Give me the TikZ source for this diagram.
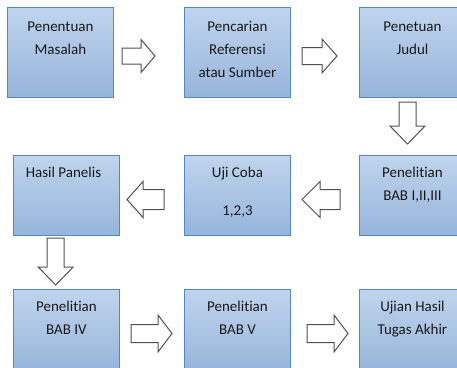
\documentclass[tikz,border=0pt]{standalone}
\usepackage{fontspec}
\setmainfont{Carlito}[Ligatures={NoCommon}]
\definecolor{boxtop}{RGB}{192,212,237}
\definecolor{boxbot}{RGB}{150,181,219}
\definecolor{boxline}{RGB}{86,134,196}
\definecolor{arrline}{RGB}{80,80,80}
\definecolor{txtcol}{RGB}{25,25,25}
\tikzset{
  box/.style={draw=boxline, line width=0.9pt, top color=boxtop, bottom color=boxbot,
    minimum width=106pt, inner sep=0pt, anchor=north west},
  lbl/.style={anchor=north, align=center, inner sep=0pt, text=txtcol,
    font=\fontsize{15}{23}\selectfont},
  arrowline/.style={draw=arrline, line width=1pt, fill=white, line join=miter},
  pics/barrow/.style n args={4}{code={
    \draw[arrowline] (0,{-#4/2}) -- (#2,{-#4/2}) -- (#2,{-#3/2}) -- (#1,0)
      -- (#2,{#3/2}) -- (#2,{#4/2}) -- (0,{#4/2}) -- cycle;}}
}
\begin{document}
\begin{tikzpicture}[x=1pt,y=-1pt]
\useasboundingbox (0,0) rectangle (457,367);
\clip (0,0) rectangle (457,367);
% row 1
\node[box, minimum height=90pt] (b1) at (7,7) {};
\node[box, minimum height=90pt] (b2) at (184,7) {};
\node[box, minimum height=90pt] (b3) at (359,7) {};
% row 2
\node[box, minimum height=80pt] (b4) at (359,155) {};
\node[box, minimum height=80pt] (b5) at (184,155) {};
\node[box, minimum height=80pt] (b6) at (13,155) {};
% row 3
\node[box, minimum height=82pt] (b7) at (13,289) {};
\node[box, minimum height=82pt] (b8) at (184,289) {};
\node[box, minimum height=82pt] (b9) at (359,289) {};
% labels
\node[lbl] (t1) at ([yshift=-8pt]b1.north) {\strut Penentuan\\Masalah};
\node[lbl] (t2) at ([yshift=-8pt]b2.north) {\strut Pencarian\\Referensi\\atau Sumber};
\node[lbl] (t3) at ([yshift=-8pt]b3.north) {\strut Penetuan\\Judul};
\node[lbl] (t4) at ([yshift=-6pt]b4.north) {\strut Penelitian\\BAB I,II,III};
\node[lbl] (t5) at ([yshift=-6pt]b5.north) {\strut Uji Coba\\[15pt]1,2,3};
\node[lbl] (t6) at ([xshift=-3pt,yshift=-6pt]b6.north) {\strut Hasil Panelis};
\node[lbl] (t7) at ([yshift=-6pt]b7.north) {\strut Penelitian\\BAB IV};
\node[lbl] (t8) at ([yshift=-6pt]b8.north) {\strut Penelitian\\BAB V};
\node[lbl] (t9) at ([yshift=-6pt]b9.north) {\strut Ujian Hasil\\Tugas Akhir};
% block arrows
\pic at (122,56) {barrow={33}{19}{33}{16}};
\pic at (302,56) {barrow={35}{20}{34}{17}};
\pic[rotate=-90] at (407.5,102) {barrow={42}{24}{35}{17}};
\pic[rotate=180] at (340,199.5) {barrow={38}{20}{36}{20}};
\pic[rotate=180] at (164,199.5) {barrow={37}{21}{36}{20}};
\pic[rotate=-90] at (55.7,238) {barrow={47}{29}{35}{17}};
\pic at (131,333.5) {barrow={41}{27}{37}{18}};
\pic at (307,333.5) {barrow={41}{27}{37}{18}};
\end{tikzpicture}
\end{document}
